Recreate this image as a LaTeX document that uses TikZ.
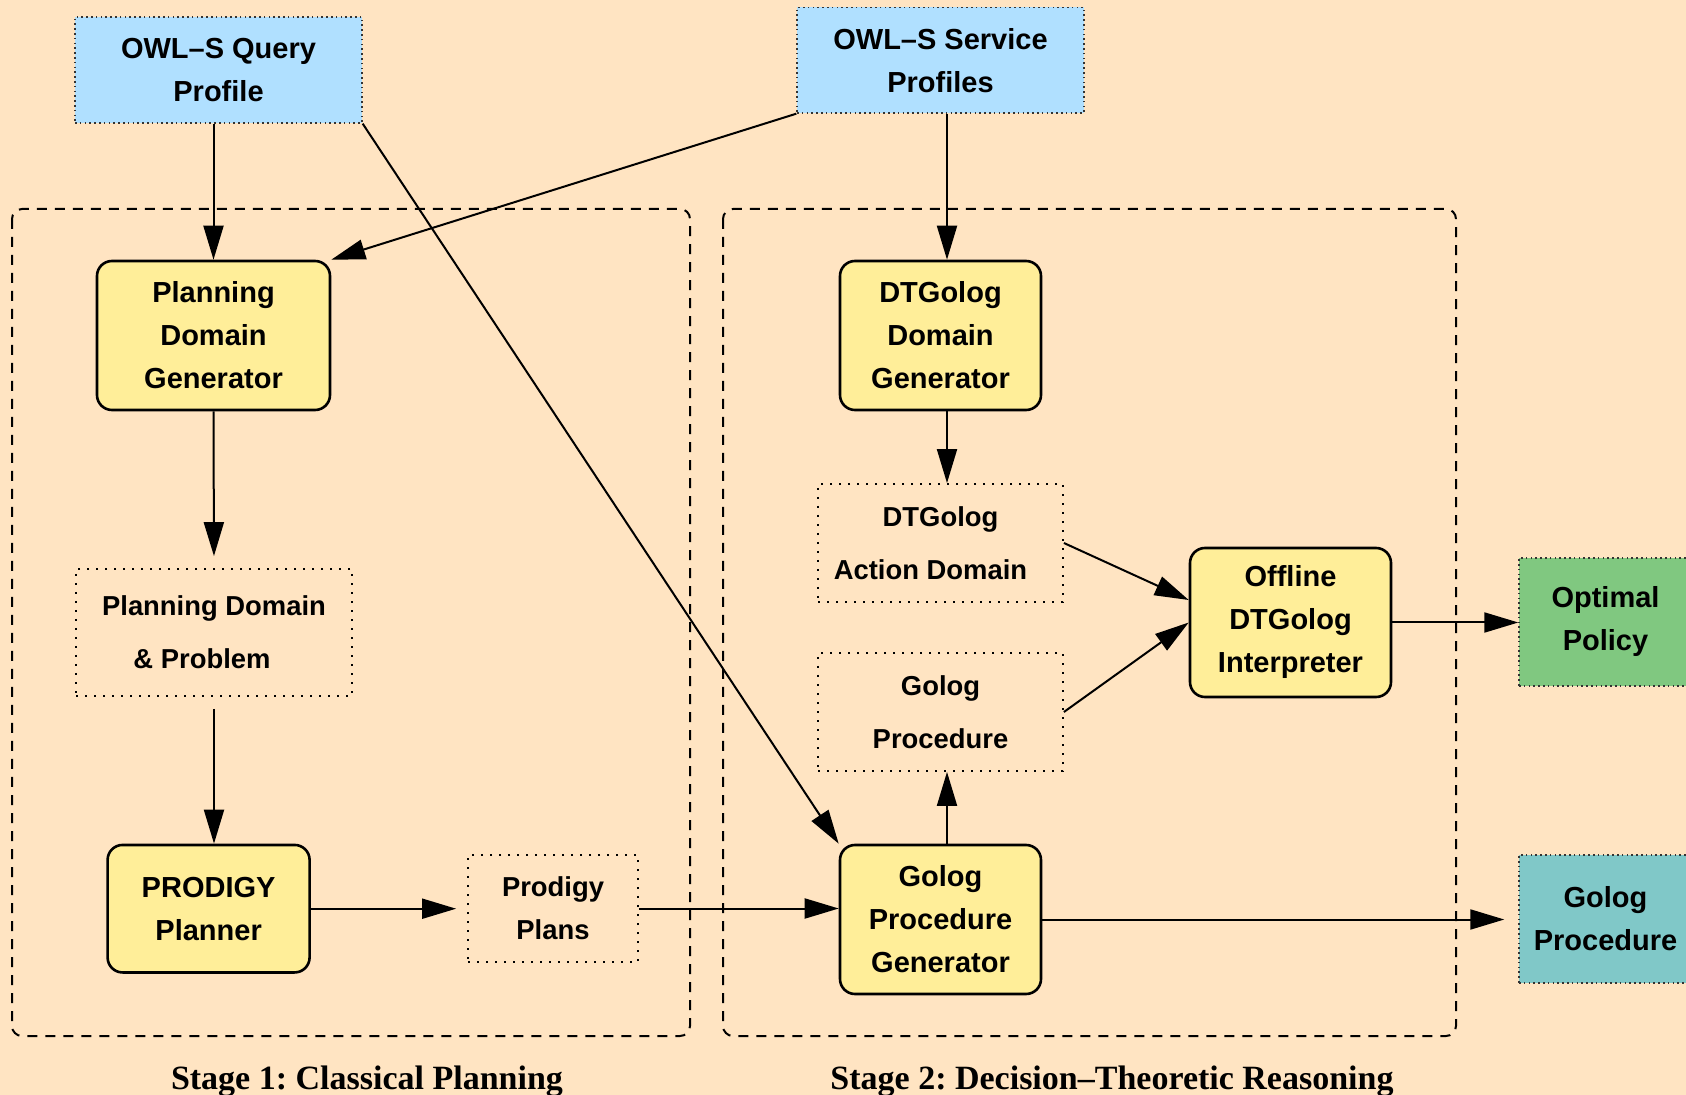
\documentclass[tikz,border=0pt]{standalone}
\usepackage{fontspec}
\setmainfont{Liberation Sans}
\newfontfamily\serifb{Liberation Serif}
\usetikzlibrary{arrows.meta,calc}
\definecolor{bgc}{RGB}{255,228,194}
\definecolor{ybox}{RGB}{255,238,153}
\definecolor{bbox}{RGB}{176,224,255}
\definecolor{gbox}{RGB}{128,200,128}
\definecolor{tbox}{RGB}{128,200,200}
\tikzset{
  yellowbox/.style={draw, rounded corners=7.5pt, line width=1.3pt, fill=ybox, inner sep=0pt,
    align=center, font=\bfseries\fontsize{14.5}{21.5}\selectfont},
  colbox/.style={draw=black!80, dash pattern=on 0.8pt off 1.6pt, line width=0.7pt, inner sep=0pt,
    align=center, font=\bfseries\fontsize{14.5}{21.5}\selectfont},
  dotbox/.style={draw, dash pattern=on 1pt off 3.5pt, line width=0.9pt, inner sep=0pt,
    align=center, font=\bfseries\fontsize{13.7}{26.5}\selectfont},
  group/.style={draw, dash pattern=on 5pt off 4pt, line width=1pt, rounded corners=5pt},
  conn/.style={line width=1pt, -{Triangle[length=17pt,width=10pt]}},
  stagelabel/.style={anchor=base, inner sep=0pt, font=\frenchspacing\serifb\bfseries\fontsize{17}{20}\selectfont},
}
\begin{document}
\begin{tikzpicture}[x=0.5pt,y=-0.5pt]
\path[use as bounding box, fill=bgc] (0,0) rectangle (1686,1095);

% stage groups
\draw[group] (12,209) rectangle (690,1036);
\draw[group] (723,209) rectangle (1456,1036);

% nodes
\node[colbox, fill=bbox, minimum width=143.5pt, minimum height=53pt] (qp) at (218.5,70) {OWL–S Query\\Profile};
\node[colbox, fill=bbox, minimum width=143.5pt, minimum height=52.75pt] (sp) at (940.5,60.25) {OWL–S Service\\Profiles};

\node[yellowbox, minimum width=116.5pt, minimum height=74.5pt] (pdg) at (213.5,335.5) {Planning\\Domain\\Generator};
\node[dotbox, minimum width=138pt, minimum height=63.5pt] (pdp) at (214,632.5) {Planning Domain\\\& Problem\hspace*{12pt}};
\node[yellowbox, minimum width=101pt, minimum height=63.75pt] (pp) at (208.6,908.7) {PRODIGY\\Planner};
\node[dotbox, minimum width=85pt, minimum height=53.5pt, font=\bfseries\fontsize{13.7}{21.5}\selectfont] (plans) at (553,908.5) {Prodigy\\Plans};

\node[yellowbox, minimum width=100.5pt, minimum height=74.5pt] (dtdg) at (940.5,335.5) {DTGolog\\Domain\\Generator};
\node[dotbox, minimum width=122.5pt, minimum height=59pt] (da) at (940.5,543) {DTGolog\\Action Domain\hspace*{10pt}};
\node[dotbox, minimum width=122.5pt, minimum height=59pt] (gp) at (940.5,712) {Golog\\Procedure};
\node[yellowbox, minimum width=100.5pt, minimum height=74.5pt] (gpg) at (940.5,919.5) {Golog\\Procedure\\Generator};
\node[yellowbox, minimum width=100.5pt, minimum height=74.5pt] (off) at (1290.5,622.5) {Offline\\DTGolog\\Interpreter};

\node[colbox, fill=gbox, minimum width=86.5pt, minimum height=64pt] (opt) at (1605.5,622) {Optimal\\Policy};
\node[colbox, fill=tbox, minimum width=86.5pt, minimum height=64pt] (gpout) at (1605.5,919) {Golog\\Procedure};

% connectors
\draw[conn] (pdg.north |- qp.south) -- (pdg.north);
\draw[conn] (qp.south east) -- (gpg.north west);
\draw[conn] (sp.south west) -- (pdg.north east);
\draw[conn] ([xshift=3.25pt]dtdg.north |- sp.south) -- ([xshift=3.25pt]dtdg.north);
\draw[conn, shorten >=6pt] (pdg.south) -- (pdp.north);
\draw[conn, shorten <=6pt] (pdp.south) -- (pdp.south |- pp.north);
\draw[conn, shorten >=5.5pt] (pp.east) -- (pp.east -| plans.west);
\draw[conn] (plans.east) -- (plans.east -| gpg.west);
\draw[conn] ([xshift=3.25pt]dtdg.south) -- ([xshift=3.25pt]da.north);
\draw[conn] ([xshift=3.25pt]gpg.north) -- ([xshift=3.25pt]gp.south);
\draw[conn] (da.east) -- ($(off.west)+(0,-22.5)$);
\draw[conn] (gp.east) -- (off.west);
\draw[conn] (off.east) -- (off.east -| opt.west);
\draw[conn, shorten >=7pt] (gpg.east) -- (gpg.east -| gpout.west);

% stage labels
\node[stagelabel] (s1) at (367,1089) {Stage 1: Classical Planning};
\node[stagelabel] (s2) at (1112,1089) {Stage 2: Decision–Theoretic Reasoning};
\end{tikzpicture}
\end{document}
